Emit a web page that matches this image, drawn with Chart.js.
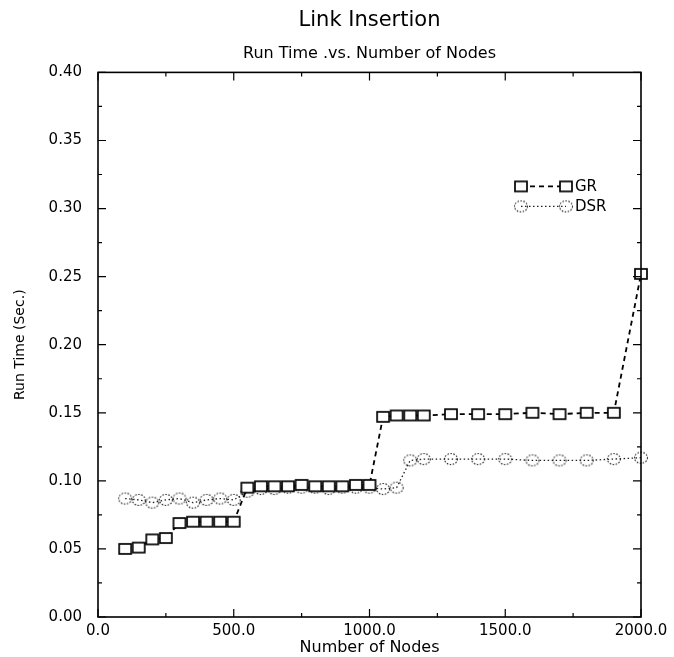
<!DOCTYPE html>
<html>
<head>
<meta charset="utf-8">
<script src="https://cdn.jsdelivr.net/npm/chart.js@4/dist/chart.umd.min.js"></script>
<style>
  html, body { margin: 0; padding: 0; background: #fff; }
  #wrap { width: 674px; height: 657px; }
</style>
</head>
<body>
<div id="wrap"><canvas id="c" width="674" height="657"></canvas></div>
<script>
// ---- data ----
const grNodes = [100,150,200,250,300,350,400,450,500,550,600,650,700,750,800,850,900,950,1000,1050,1100,1150,1200,1300,1400,1500,1600,1700,1800,1900,2000];
const grTime  = [0.050,0.051,0.057,0.058,0.069,0.070,0.070,0.070,0.070,0.095,0.096,0.096,0.096,0.097,0.096,0.096,0.096,0.097,0.097,0.147,0.148,0.148,0.148,0.149,0.149,0.149,0.150,0.149,0.150,0.150,0.252];
const dsrNodes = [100,150,200,250,300,350,400,450,500,550,600,650,700,750,800,850,900,950,1000,1050,1100,1150,1200,1300,1400,1500,1600,1700,1800,1900,2000];
const dsrTime  = [0.087,0.086,0.084,0.086,0.087,0.084,0.086,0.087,0.086,0.092,0.094,0.094,0.095,0.095,0.095,0.094,0.095,0.095,0.095,0.094,0.095,0.115,0.116,0.116,0.116,0.116,0.115,0.115,0.115,0.116,0.117];
const xTickValues = [0, 500, 1000, 1500, 2000];
const yTickValues = [0, 0.05, 0.10, 0.15, 0.20, 0.25, 0.30, 0.35, 0.40];
const seriesNames = ['GR', 'DSR'];

// ---- marker images ----
function squareMarker() {
  const c = document.createElement('canvas'); c.width = 16; c.height = 14;
  const g = c.getContext('2d');
  g.fillStyle = '#fff'; g.fillRect(2, 2, 12, 10);
  g.strokeStyle = '#000'; g.lineWidth = 1.7; g.strokeRect(2, 2, 12, 10);
  return c;
}
function circleMarker() {
  const c = document.createElement('canvas'); c.width = 16; c.height = 14;
  const g = c.getContext('2d');
  g.strokeStyle = '#222'; g.lineWidth = 1.1; g.setLineDash([1.5, 1.5]);
  g.beginPath(); g.ellipse(8, 7, 6.5, 5.5, 0, 0, Math.PI * 2); g.stroke();
  return c;
}
const sq = squareMarker(), ci = circleMarker();

const FONT = "'DejaVu Sans', sans-serif";

const frameTicks = {
  id: 'frameTicks',
  afterDraw(chart) {
    const {ctx, chartArea: a, scales: {x, y}} = chart;
    ctx.save();
    ctx.strokeStyle = '#000';
    ctx.lineWidth = 1.6;
    ctx.setLineDash([]);
    ctx.strokeRect(a.left, a.top, a.right - a.left, a.bottom - a.top);
    ctx.lineWidth = 1.2;
    const major = 8, minor = 4;
    ctx.beginPath();
    yTickValues.forEach((v, i) => {
      const py = y.getPixelForValue(v);
      ctx.moveTo(a.left, py); ctx.lineTo(a.left + major, py);
      ctx.moveTo(a.right, py); ctx.lineTo(a.right - major, py);
      if (i < yTickValues.length - 1) {
        const pm = y.getPixelForValue((v + yTickValues[i + 1]) / 2);
        ctx.moveTo(a.left, pm); ctx.lineTo(a.left + minor, pm);
        ctx.moveTo(a.right, pm); ctx.lineTo(a.right - minor, pm);
      }
    });
    xTickValues.forEach((v, i) => {
      const px = x.getPixelForValue(v);
      ctx.moveTo(px, a.bottom); ctx.lineTo(px, a.bottom - major);
      ctx.moveTo(px, a.top); ctx.lineTo(px, a.top + major);
      if (i < xTickValues.length - 1) {
        const pm = x.getPixelForValue((v + xTickValues[i + 1]) / 2);
        ctx.moveTo(pm, a.bottom); ctx.lineTo(pm, a.bottom - minor);
        ctx.moveTo(pm, a.top); ctx.lineTo(pm, a.top + minor);
      }
    });
    ctx.stroke();
    ctx.restore();
  }
};

const insideLegend = {
  id: 'insideLegend',
  afterDraw(chart) {
    const {ctx, chartArea: a} = chart;
    const x0 = a.left + 423, x1 = a.left + 468, tx = a.left + 477;
    const rows = [a.top + 114, a.top + 134];
    ctx.save();
    chart.data.datasets.forEach((ds, i) => {
      const yy = rows[i];
      ctx.strokeStyle = ds.borderColor;
      ctx.lineWidth = ds.borderWidth;
      ctx.setLineDash(ds.borderDash);
      ctx.beginPath(); ctx.moveTo(x0, yy); ctx.lineTo(x1, yy); ctx.stroke();
      ctx.setLineDash([]);
      const img = ds.pointStyle;
      ctx.drawImage(img, x0 - img.width / 2, yy - img.height / 2);
      ctx.drawImage(img, x1 - img.width / 2, yy - img.height / 2);
      ctx.fillStyle = '#000';
      ctx.font = '15px ' + FONT;
      ctx.textBaseline = 'middle';
      ctx.textAlign = 'left';
      ctx.fillText(ds.label, tx, yy + 1);
    });
    ctx.restore();
  }
};

new Chart(document.getElementById('c'), {
  type: 'line',
  data: {
    datasets: [
      {
        label: seriesNames[0],
        data: grNodes.map((n, i) => ({x: n, y: grTime[i]})),
        borderColor: '#000', borderWidth: 1.8, borderDash: [5, 4],
        pointStyle: sq, pointRadius: 7, fill: false, tension: 0, clip: false
      },
      {
        label: seriesNames[1],
        data: dsrNodes.map((n, i) => ({x: n, y: dsrTime[i]})),
        borderColor: '#222', borderWidth: 1.3, borderDash: [1.5, 2.5],
        pointStyle: ci, pointRadius: 7, fill: false, tension: 0, clip: false
      }
    ]
  },
  options: {
    responsive: false,
    animation: false,
    events: [],
    layout: { padding: { left: 0, right: 33, top: 0, bottom: 0 } },
    plugins: {
      legend: { display: false },
      tooltip: { enabled: false },
      title: {
        display: true, text: 'Link Insertion', color: '#000', fullSize: false,
        font: { family: FONT, size: 21, weight: 'normal' },
        padding: { top: 8, bottom: 11 }
      },
      subtitle: {
        display: true, text: 'Run Time .vs. Number of Nodes', color: '#000', fullSize: false,
        font: { family: FONT, size: 16, weight: 'normal' },
        padding: { top: 0, bottom: 9 }
      }
    },
    scales: {
      x: {
        type: 'linear', min: 0, max: 2000,
        afterFit(s) { s.height = 40; },
        grid: { display: false, drawTicks: false },
        border: { display: false },
        ticks: { stepSize: 500, color: '#000', padding: 5,
          font: { family: FONT, size: 15 },
          callback: v => Number(v).toFixed(1) },
        title: { display: true, text: 'Number of Nodes', color: '#000',
          font: { family: FONT, size: 16 }, padding: { top: 0, bottom: 0 } }
      },
      y: {
        type: 'linear', min: 0, max: 0.4,
        afterFit(s) { s.width = 98; },
        grid: { display: false, drawTicks: false },
        border: { display: false },
        ticks: { stepSize: 0.05, color: '#000', padding: 16,
          font: { family: FONT, size: 15 },
          callback: v => Number(v).toFixed(2) },
        title: { display: true, text: 'Run Time (Sec.)', color: '#000',
          font: { family: FONT, size: 14 }, padding: { top: 12, bottom: 0 } }
      }
    }
  },
  plugins: [frameTicks, insideLegend]
});
</script>
</body>
</html>
